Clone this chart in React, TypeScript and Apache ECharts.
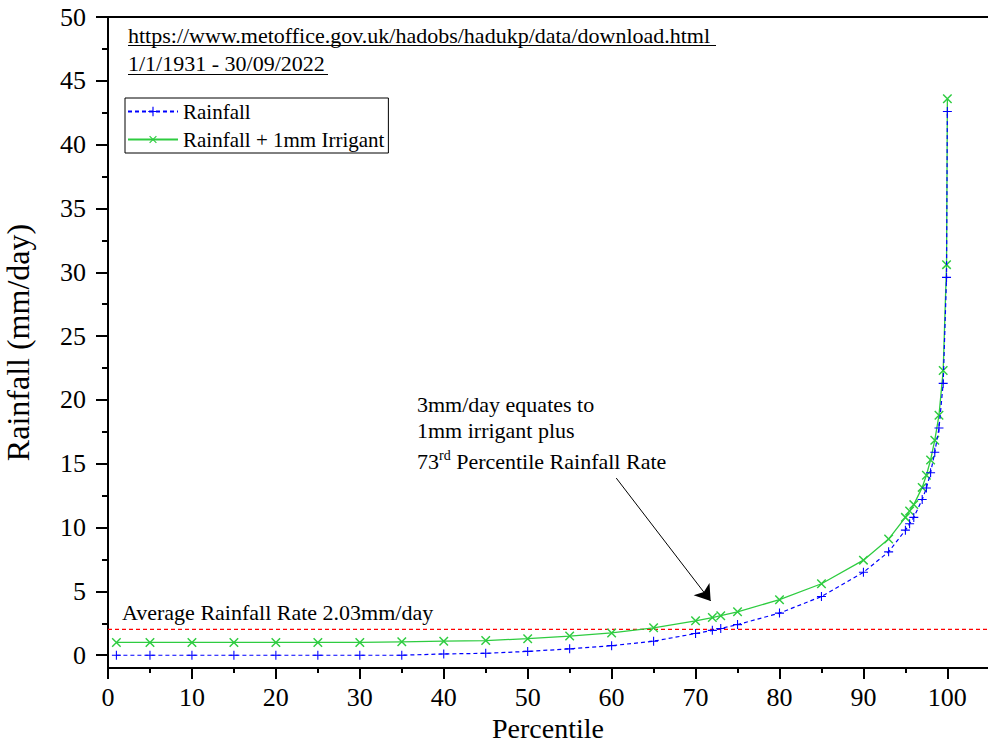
import React, { useEffect, useRef } from "react";
import * as echarts from "echarts";

const percentiles = [1, 5, 10, 15, 20, 25, 30, 35, 40, 45, 50, 55, 60, 65, 70, 72, 73, 75, 80, 85, 90, 93, 95, 95.5, 96, 97, 97.5, 98, 98.5, 99, 99.5, 99.9, 100];
const rainfall = [0, 0, 0, 0, 0, 0, 0, 0, 0.1, 0.15, 0.3, 0.5, 0.75, 1.1, 1.7, 1.95, 2.1, 2.4, 3.3, 4.6, 6.5, 8.1, 9.8, 10.3, 10.8, 12.2, 13.1, 14.3, 15.9, 17.8, 21.3, 29.6, 42.6];
const rainfallIrrigant = [1, 1, 1, 1, 1, 1, 1, 1.05, 1.1, 1.15, 1.3, 1.5, 1.75, 2.15, 2.7, 2.95, 3.1, 3.4, 4.35, 5.6, 7.45, 9.1, 10.8, 11.3, 11.8, 13.15, 14.1, 15.3, 16.85, 18.8, 22.3, 30.6, 43.6];
const averageRate = 2.03;
const arrowStart = [60.55, 13.88];
const arrowEnd = [71.8, 4.25];

const xMinorTicks = [5, 15, 25, 35, 45, 55, 65, 75, 85, 95];
const yTicks = [0, 5, 10, 15, 20, 25, 30, 35, 40, 45, 50];
const yMinorTicks = [2.5, 7.5, 12.5, 17.5, 22.5, 27.5, 32.5, 37.5, 42.5, 47.5];

const sourceUrl = "https://www.metoffice.gov.uk/hadobs/hadukp/data/download.html";
const dateRange = "1/1/1931 - 30/09/2022";

const FONT = "Liberation Serif";
const BLUE = "#0000ff";
const GREEN = "#2ecc40";
const RED = "#ff0000";
const X_MIN = 0;
const X_MAX = 104.84;
const Y_MIN = -1;
const Y_MAX = 50;

const plusPath = "path://M0,4.4L10,4.4L10,5.6L0,5.6Z M4.4,0L5.6,0L5.6,10L4.4,10Z";

export default function App() {
  const ref = useRef<HTMLDivElement>(null);
  useEffect(() => {
    document.body.style.margin = "0";
    const chart = echarts.init(ref.current!, undefined, { renderer: "svg" });
    const axisBase = {
      type: "value",
      min: X_MIN,
      max: X_MAX,
      splitLine: { show: false },
    };
    const yBase = {
      type: "value",
      min: Y_MIN,
      max: Y_MAX,
      position: "left",
      splitLine: { show: false },
    };
    const tickLabel = {
      fontSize: 26,
      color: "#000",
      fontFamily: FONT,
    };
    chart.setOption({
      animation: false,
      backgroundColor: "#ffffff",
      textStyle: { fontFamily: FONT, color: "#000" },
      grid: { left: 108, right: 0, top: 17, bottom: 76, containLabel: false, outerBoundsMode: "none" },
      legend: {
        data: ["Rainfall", "Rainfall + 1mm Irrigant"],
        orient: "vertical",
        left: 125,
        top: 98,
        borderColor: "#000",
        borderWidth: 1,
        borderRadius: 0,
        padding: [3, 4, 3, 2],
        itemGap: 7,
        itemWidth: 50,
        itemHeight: 12,
        textStyle: { fontFamily: FONT, fontSize: 21, color: "#000" },
      },
      xAxis: [
        {
          ...axisBase,
          interval: 10,
          position: "bottom",
          axisLine: { onZero: false, lineStyle: { color: "#000", width: 2 } },
          axisTick: { show: true, length: 11, lineStyle: { color: "#000", width: 2 } },
          axisLabel: { ...tickLabel, margin: 16, showMaxLabel: false },
          name: "Percentile",
          nameLocation: "middle",
          nameGap: 36,
          nameTextStyle: { fontSize: 28, color: "#000", fontFamily: FONT },
        },
        {
          ...axisBase,
          position: "bottom",
          axisLine: { show: false, onZero: false },
          axisTick: { show: true, length: 5, lineStyle: { color: "#000", width: 2 }, customValues: xMinorTicks },
          axisLabel: { show: false },
        },
        {
          ...axisBase,
          position: "top",
          axisLine: { onZero: false, lineStyle: { color: "#000", width: 2 } },
          axisTick: { show: false },
          axisLabel: { show: false },
        },
      ],
      yAxis: [
        {
          ...yBase,
          axisLine: { show: true, onZero: false, lineStyle: { color: "#000", width: 2 } },
          axisTick: { show: true, length: 12, lineStyle: { color: "#000", width: 2 }, customValues: yTicks },
          axisLabel: { ...tickLabel, customValues: yTicks, margin: 22 },
          name: "Rainfall (mm/day)",
          nameLocation: "middle",
          nameGap: 74,
          nameTextStyle: { fontSize: 32, color: "#000", fontFamily: FONT },
        },
        {
          ...yBase,
          axisLine: { show: false, onZero: false },
          axisTick: { show: true, length: 6, lineStyle: { color: "#000", width: 2 }, customValues: yMinorTicks },
          axisLabel: { show: false },
        },
      ],
      series: [
        {
          name: "Average Rainfall Rate",
          type: "line",
          xAxisIndex: 0,
          yAxisIndex: 0,
          data: [[X_MIN, averageRate], [X_MAX, averageRate]],
          symbol: "none",
          silent: true,
          lineStyle: { color: RED, width: 1.3, type: [4, 3] },
          itemStyle: { color: RED },
          z: 1,
        },
        {
          name: "Rainfall + 1mm Irrigant",
          type: "line",
          xAxisIndex: 0,
          yAxisIndex: 0,
          data: percentiles.map((p, i) => [p, rainfallIrrigant[i]]),
          symbol: plusPath,
          symbolSize: 12,
          symbolRotate: 45,
          showAllSymbol: true,
          itemStyle: { color: GREEN },
          lineStyle: { color: GREEN, width: 1.3 },
          z: 2,
          markLine: {
            silent: true,
            symbol: ["none", "arrow"],
            symbolSize: 15,
            label: { show: false },
            itemStyle: { color: "#000" },
            lineStyle: { color: "#000", width: 1, type: "solid" },
            data: [[{ coord: arrowStart }, { coord: arrowEnd }]],
          },
        },
        {
          name: "Rainfall",
          type: "line",
          xAxisIndex: 0,
          yAxisIndex: 0,
          data: percentiles.map((p, i) => [p, rainfall[i]]),
          symbol: plusPath,
          symbolSize: 9,
          showAllSymbol: true,
          itemStyle: { color: BLUE },
          lineStyle: { color: BLUE, width: 1.2, type: [4, 3] },
          z: 3,
        },
      ],
      graphic: [
        { type: "text", left: 128, top: 24, style: { text: sourceUrl, font: `22px "${FONT}"`, fill: "#000" } },
        { type: "line", shape: { x1: 128, y1: 45.5, x2: 716, y2: 45.5 }, style: { stroke: "#000", lineWidth: 1 } },
        { type: "text", left: 128, top: 52, style: { text: dateRange, font: `22px "${FONT}"`, fill: "#000" } },
        { type: "line", shape: { x1: 128, y1: 74.5, x2: 328, y2: 74.5 }, style: { stroke: "#000", lineWidth: 1 } },
        { type: "text", left: 122, top: 601, style: { text: "Average Rainfall Rate 2.03mm/day", font: `22px "${FONT}"`, fill: "#000" } },
        { type: "text", left: 417, top: 393, style: { text: "3mm/day equates to", font: `22px "${FONT}"`, fill: "#000" } },
        { type: "text", left: 417, top: 419, style: { text: "1mm irrigant plus", font: `22px "${FONT}"`, fill: "#000" } },
        {
          type: "text",
          left: 417,
          top: 448,
          style: {
            text: "{n|73}{s|rd}{n| Percentile Rainfall Rate}",
            fill: "#000",
            rich: {
              n: { fontFamily: FONT, fontSize: 22, lineHeight: 26, fill: "#000" },
              s: { fontFamily: FONT, fontSize: 14, lineHeight: 14, verticalAlign: "top", fill: "#000" },
            },
          },
        },
      ],
    });
    return () => chart.dispose();
  }, []);
  return <div ref={ref} style={{ width: 988, height: 744, background: "#fff" }} />;
}
